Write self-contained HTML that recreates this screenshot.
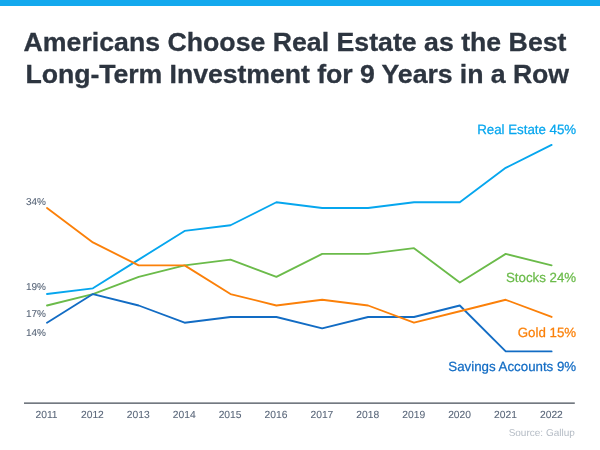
<!DOCTYPE html>
<html><head><meta charset="utf-8">
<style>
html,body{margin:0;padding:0;background:#fff;}
body{width:600px;height:450px;position:relative;overflow:hidden;font-family:"Liberation Sans",Arial,sans-serif;}
#bar{position:absolute;left:0;top:0;width:600px;height:5.5px;background:#14a9ee;}
h1{position:absolute;left:23.6px;top:26px;margin:0;font-size:26.7px;line-height:32.25px;font-weight:bold;color:#2d3540;white-space:nowrap;letter-spacing:0;-webkit-text-stroke:0.3px #2d3540;}
svg{position:absolute;left:0;top:0;}
svg text{font-family:"Liberation Sans",Arial,sans-serif;text-rendering:geometricPrecision;}
</style></head><body>
<div id="bar"></div>
<h1>Americans Choose Real Estate as the Best<br><span style="margin-left:1.9px;letter-spacing:-0.065px">Long-Term Investment for 9 Years in a Row</span></h1>
<svg width="600" height="450" viewBox="0 0 600 450">
<line x1="24" y1="403.1" x2="574.8" y2="403.1" stroke="#454d57" stroke-width="1.25"/>
<g fill="none" stroke-width="1.85" stroke-linejoin="round" stroke-linecap="round">
<polyline stroke="#06a6ee" points="47.0,294.03 92.9,288.30 138.7,259.62 184.6,230.95 230.5,225.22 276.4,202.27 322.2,208.01 368.1,208.01 414.0,202.27 459.8,202.27 505.7,167.86 551.6,144.93"/>
<polyline stroke="#6bbb4a" points="47.0,305.50 92.9,294.03 138.7,276.83 184.6,265.36 230.5,259.62 276.4,276.83 322.2,253.89 368.1,253.89 414.0,248.16 459.8,282.56 505.7,253.89 551.6,265.36"/>
<polyline stroke="#126cc4" points="47.0,322.71 92.9,294.03 138.7,305.50 184.6,322.71 230.5,316.98 276.4,316.98 322.2,328.44 368.1,316.98 414.0,316.98 459.8,305.50 505.7,351.38 551.6,351.38"/>
<polyline stroke="#fb8009" points="47.0,208.01 92.9,242.42 138.7,265.36 184.6,265.36 230.5,294.03 276.4,305.50 322.2,299.77 368.1,305.50 414.0,322.71 459.8,311.24 505.7,299.77 551.6,316.98"/>
</g>
<g font-size="10" fill="#5a677a" stroke="#5a677a" stroke-width="0.08">
<text x="26" y="205.4">34%</text>
<text x="26" y="290.2">19%</text>
<text x="26" y="317">17%</text>
<text x="26" y="336.4">14%</text>
</g>
<g font-size="10.3" fill="#5a677a" stroke="#5a677a" stroke-width="0.08" text-anchor="middle">
<text x="46.5" y="418.3">2011</text><text x="92.4" y="418.3">2012</text><text x="138.3" y="418.3">2013</text><text x="184.2" y="418.3">2014</text><text x="230.1" y="418.3">2015</text><text x="276.0" y="418.3">2016</text><text x="321.9" y="418.3">2017</text><text x="367.8" y="418.3">2018</text><text x="413.7" y="418.3">2019</text><text x="459.6" y="418.3">2020</text><text x="505.5" y="418.3">2021</text><text x="551.4" y="418.3">2022</text>
</g>
<g font-size="13.3" text-anchor="end" stroke-width="0.25" stroke-linejoin="round">
<text x="576.2" y="133.5" fill="#06a6ee" stroke="#06a6ee">Real Estate 45%</text>
<text x="576.2" y="282.4" fill="#6bbb4a" stroke="#6bbb4a">Stocks 24%</text>
<text x="576.2" y="336.8" fill="#fb8009" stroke="#fb8009">Gold 15%</text>
<text x="576.2" y="370.6" fill="#126cc4" stroke="#126cc4">Savings Accounts 9%</text>
</g>
<text x="574.8" y="436.4" font-size="10" fill="#b5bcc5" text-anchor="end">Source: Gallup</text>
</svg>
</body></html>
